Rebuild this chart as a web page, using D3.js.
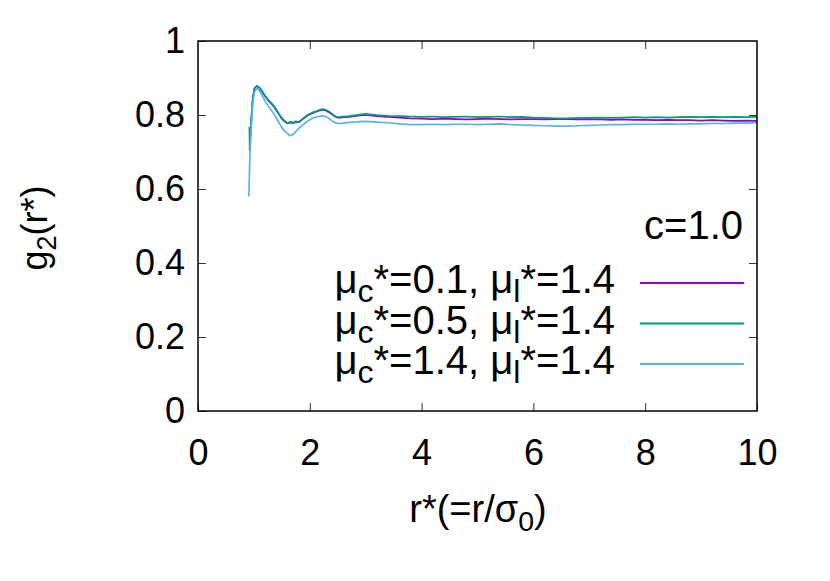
<!DOCTYPE html>
<html>
<head>
<meta charset="utf-8">
<script src="https://cdn.jsdelivr.net/npm/d3@7"></script>
<style>
  body { margin: 0; background: #fff; }
  svg text { font-family: "Liberation Sans", Arial, sans-serif; fill: #000; }
</style>
</head>
<body>
<div id="chart"></div>
<script>
// r* values shared by all three series
let rVals = [0.91, 0.92, 0.925, 0.95, 0.98, 1.01, 1.05, 1.1,
  1.15, 1.2, 1.25, 1.3, 1.35, 1.4, 1.45, 1.5, 1.55, 1.6, 1.65, 1.7, 1.75, 1.8, 1.85, 1.9, 1.95,
  2.0, 2.05, 2.1, 2.15, 2.2, 2.25, 2.3, 2.35, 2.4, 2.45, 2.5, 2.55, 2.6,
  2.7, 2.8, 2.9, 3.0,
  3.2, 3.4, 3.6, 3.8, 4.0, 4.2, 4.4, 4.6, 4.8, 5.0, 5.2, 5.4, 5.6, 5.8, 6.0, 6.2, 6.4, 6.6, 6.8, 7.0,
  7.2, 7.4, 7.6, 7.8, 8.0, 8.2, 8.4, 8.6, 8.8, 9.0, 9.2, 9.4, 9.6, 9.8, 10.0];

let gPurple = [null, null, 0.72, 0.78, 0.845, 0.871, 0.878, 0.873,
  0.862, 0.851, 0.841, 0.832, 0.824, 0.813, 0.801, 0.79, 0.782, 0.777, 0.780, 0.778, 0.781, 0.780, 0.786, 0.792, 0.798,
  0.802, 0.805, 0.808, 0.811, 0.813, 0.814, 0.811, 0.807, 0.801, 0.796, 0.793, 0.793, 0.794,
  0.795, 0.797, 0.799, 0.800,
  0.797, 0.795, 0.793, 0.791, 0.790, 0.789, 0.790, 0.789, 0.788, 0.789, 0.790, 0.789, 0.788, 0.789, 0.789, 0.788, 0.789, 0.789, 0.788, 0.789,
  0.788, 0.787, 0.788, 0.787, 0.787, 0.786, 0.787, 0.786, 0.786, 0.785, 0.786, 0.785, 0.784, 0.785, 0.784];

let gGreen = [null, 0.768, 0.705, 0.78, 0.845, 0.872, 0.879, 0.874,
  0.864, 0.852, 0.842, 0.834, 0.826, 0.815, 0.803, 0.792, 0.784, 0.778, 0.782, 0.779, 0.783, 0.781, 0.787, 0.793, 0.799,
  0.803, 0.807, 0.809, 0.812, 0.815, 0.816, 0.813, 0.809, 0.803, 0.797, 0.794, 0.795, 0.796,
  0.797, 0.799, 0.801, 0.803,
  0.800, 0.798, 0.797, 0.796, 0.795, 0.796, 0.794, 0.795, 0.796, 0.794, 0.795, 0.796, 0.794, 0.795, 0.793, 0.792, 0.791, 0.791, 0.792, 0.792,
  0.793, 0.792, 0.793, 0.794, 0.793, 0.794, 0.793, 0.794, 0.795, 0.794, 0.795, 0.794, 0.795, 0.794, 0.795];

let gBlue = [0.58, 0.64, 0.67, 0.76, 0.83, 0.862, 0.873, 0.866,
  0.852, 0.838, 0.826, 0.815, 0.805, 0.792, 0.779, 0.766, 0.757, 0.750, 0.744, 0.747, 0.755, 0.763, 0.770, 0.776, 0.782,
  0.787, 0.791, 0.794, 0.796, 0.797, 0.797, 0.795, 0.790, 0.784, 0.780, 0.777, 0.777, 0.778,
  0.780, 0.781, 0.782, 0.783,
  0.781, 0.779, 0.776, 0.774, 0.774, 0.775, 0.774, 0.775, 0.775, 0.774, 0.775, 0.776, 0.774, 0.773, 0.772, 0.771, 0.770, 0.770, 0.771, 0.772,
  0.773, 0.774, 0.774, 0.775, 0.775, 0.775, 0.776, 0.775, 0.776, 0.776, 0.777, 0.777, 0.778, 0.778, 0.779];

let seriesNames = [
  { mc: "0.1", ml: "1.4" },
  { mc: "0.5", ml: "1.4" },
  { mc: "1.4", ml: "1.4" }
];
let seriesColors = ["#9400d3", "#009e73", "#56b4e9"];
let xTicks = [0, 2, 4, 6, 8, 10];
let yTicks = [0, 0.2, 0.4, 0.6, 0.8, 1];
let legendTitle = "c=1.0";

let dimensions = {
  width: 830,
  height: 581,
  margin: { top: 41, right: 73, bottom: 170, left: 198 }
};
dimensions.boundedWidth = dimensions.width - dimensions.margin.left - dimensions.margin.right;
dimensions.boundedHeight = dimensions.height - dimensions.margin.top - dimensions.margin.bottom;

let fontSize = 36;
let keyFont = 40;

let svgRoot = d3.select("#chart")
  .append("svg")
  .attr("width", dimensions.width)
  .attr("height", dimensions.height);

let svg = svgRoot.append("g")
  .attr("transform", `translate(${dimensions.margin.left},${dimensions.margin.top})`);

let x = d3.scaleLinear().domain([0, 10]).range([0, dimensions.boundedWidth]);
let y = d3.scaleLinear().domain([0, 1]).range([dimensions.boundedHeight, 0]);

// axes, ticks pointing inward, mirrored on top/right
let styleAxis = function (g) {
  g.select(".domain").remove();
  g.selectAll(".tick line").attr("stroke", "#333").attr("stroke-width", 1);
  g.selectAll(".tick text").attr("font-size", fontSize).attr("font-family", '"Liberation Sans", Arial, sans-serif').attr("fill", "#000");
};

svg.append("g")
  .attr("transform", `translate(0,${dimensions.boundedHeight})`)
  .call(d3.axisBottom(x).tickValues(xTicks).tickFormat(d3.format("d")).tickSize(-8).tickPadding(28))
  .call(styleAxis);

svg.append("g")
  .call(d3.axisTop(x).tickValues(xTicks.slice(1, -1)).tickFormat("").tickSize(-8))
  .call(styleAxis);

svg.append("g")
  .call(d3.axisLeft(y).tickValues(yTicks).tickFormat(d => d === 0 || d === 1 ? d3.format("d")(d) : d3.format(".1f")(d)).tickSize(-8).tickPadding(13))
  .call(styleAxis);

svg.append("g")
  .attr("transform", `translate(${dimensions.boundedWidth},0)`)
  .call(d3.axisRight(y).tickValues(yTicks.slice(1, -1)).tickFormat("").tickSize(-8))
  .call(styleAxis);

// clip for curves
svgRoot.append("defs").append("clipPath").attr("id", "plotClip")
  .append("rect")
  .attr("width", dimensions.boundedWidth)
  .attr("height", dimensions.boundedHeight);

let line = d3.line()
  .defined(d => d[1] !== null)
  .x(d => x(d[0]))
  .y(d => y(d[1]));

let allSeries = [gPurple, gGreen, gBlue];
svg.append("g").attr("clip-path", "url(#plotClip)")
  .selectAll("path")
  .data(allSeries)
  .enter()
  .append("path")
  .attr("d", vals => line(rVals.map((r, i) => [r, vals[i]])))
  .attr("fill", "none")
  .attr("stroke", (d, i) => seriesColors[i])
  .attr("stroke-width", 1.7)
  .attr("stroke-linejoin", "round");

// frame
svg.append("rect")
  .attr("width", dimensions.boundedWidth)
  .attr("height", dimensions.boundedHeight)
  .attr("fill", "none")
  .attr("stroke", "#000")
  .attr("stroke-width", 1.5);

// legend
let legend = svg.append("g");
legend.append("text")
  .attr("x", 743 - dimensions.margin.left)
  .attr("y", 239 - dimensions.margin.top)
  .attr("text-anchor", "end")
  .attr("font-size", keyFont)
  .text(legendTitle);

let legendRows = legend.selectAll("g.row")
  .data(seriesNames)
  .enter()
  .append("g")
  .attr("class", "row")
  .attr("transform", (d, i) => `translate(0,${293 - dimensions.margin.top + i * 40.5})`);

legendRows.append("line")
  .attr("x1", 640 - dimensions.margin.left)
  .attr("x2", 744 - dimensions.margin.left)
  .attr("y1", -10)
  .attr("y2", -10)
  .attr("stroke", (d, i) => seriesColors[i])
  .attr("stroke-width", 2);

let rowText = legendRows.append("text")
  .attr("x", 615 - dimensions.margin.left)
  .attr("y", 0)
  .attr("text-anchor", "end")
  .attr("font-size", keyFont);
rowText.append("tspan").text("\u03bc");
rowText.append("tspan").attr("font-size", keyFont * 0.8).attr("dy", 9).text("c");
rowText.append("tspan").attr("dy", -9).text(d => "*=" + d.mc + ", \u03bc");
rowText.append("tspan").attr("font-size", keyFont * 0.8).attr("dy", 9).text("l");
rowText.append("tspan").attr("dy", -9).text(d => "*=" + d.ml);

// axis titles
let xTitle = svgRoot.append("text")
  .attr("x", 478)
  .attr("y", 522)
  .attr("text-anchor", "middle")
  .attr("font-size", 38);
xTitle.append("tspan").text("r*(=r/\u03c3");
xTitle.append("tspan").attr("font-size", 38 * 0.75).attr("dy", 9).text("0");
xTitle.append("tspan").attr("dy", -9).text(")");

let yTitle = svgRoot.append("text")
  .attr("transform", "translate(47,228) rotate(-90)")
  .attr("text-anchor", "middle")
  .attr("font-size", fontSize);
yTitle.append("tspan").text("g");
yTitle.append("tspan").attr("font-size", fontSize * 0.75).attr("dy", 9).text("2");
yTitle.append("tspan").attr("dy", -9).text("(r*)");
</script>
</body>
</html>
